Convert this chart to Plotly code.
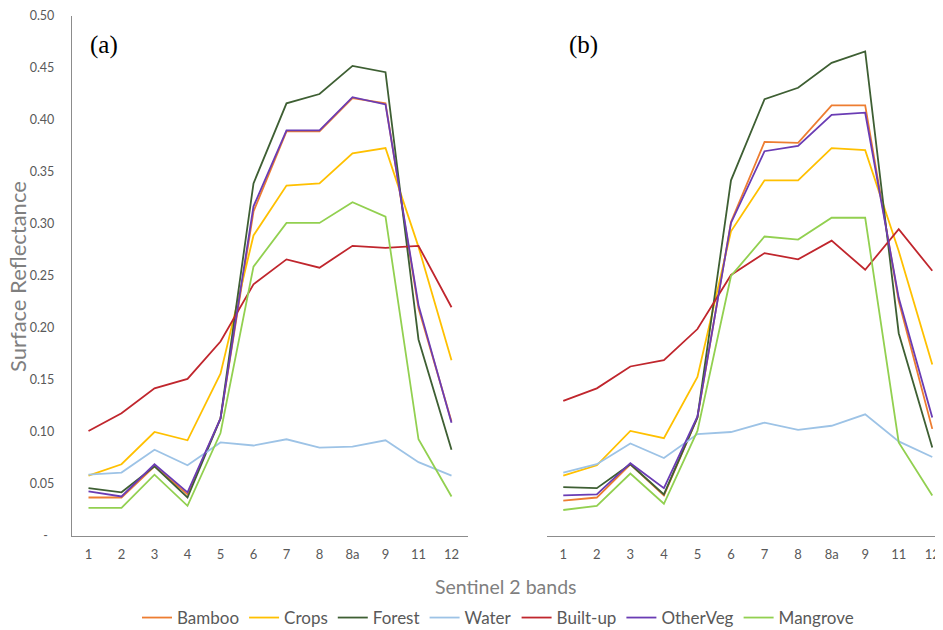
import plotly.graph_objects as go

# ---- data -------------------------------------------------------------
bands = ["1", "2", "3", "4", "5", "6", "7", "8", "8a", "9", "11", "12"]
series_names = ["Bamboo", "Crops", "Forest", "Water", "Built-up", "OtherVeg", "Mangrove"]

# panel (a)
bamboo_a   = [0.037, 0.037, 0.067, 0.040, 0.113, 0.312, 0.389, 0.389, 0.421, 0.416, 0.219, 0.110]
crops_a    = [0.058, 0.069, 0.100, 0.092, 0.156, 0.289, 0.337, 0.339, 0.368, 0.373, 0.278, 0.169]
forest_a   = [0.046, 0.042, 0.067, 0.037, 0.113, 0.339, 0.416, 0.425, 0.452, 0.446, 0.189, 0.083]
water_a    = [0.059, 0.061, 0.083, 0.068, 0.090, 0.087, 0.093, 0.085, 0.086, 0.092, 0.071, 0.058]
builtup_a  = [0.101, 0.118, 0.142, 0.151, 0.187, 0.242, 0.266, 0.258, 0.279, 0.277, 0.279, 0.220]
otherveg_a = [0.043, 0.038, 0.069, 0.042, 0.113, 0.317, 0.390, 0.390, 0.422, 0.415, 0.222, 0.109]
mangrove_a = [0.027, 0.027, 0.059, 0.029, 0.099, 0.259, 0.301, 0.301, 0.321, 0.307, 0.093, 0.038]

# panel (b)
bamboo_b   = [0.034, 0.037, 0.069, 0.039, 0.114, 0.302, 0.379, 0.378, 0.414, 0.414, 0.226, 0.103]
crops_b    = [0.058, 0.068, 0.101, 0.094, 0.153, 0.293, 0.342, 0.342, 0.373, 0.371, 0.274, 0.165]
forest_b   = [0.047, 0.046, 0.069, 0.040, 0.114, 0.342, 0.420, 0.431, 0.455, 0.466, 0.195, 0.085]
water_b    = [0.061, 0.069, 0.089, 0.075, 0.098, 0.100, 0.109, 0.102, 0.106, 0.117, 0.091, 0.076]
builtup_b  = [0.130, 0.142, 0.163, 0.169, 0.199, 0.251, 0.272, 0.266, 0.284, 0.256, 0.295, 0.255]
otherveg_b = [0.039, 0.040, 0.070, 0.046, 0.115, 0.301, 0.370, 0.375, 0.405, 0.407, 0.229, 0.114]
mangrove_b = [0.025, 0.029, 0.060, 0.031, 0.101, 0.250, 0.288, 0.285, 0.306, 0.306, 0.090, 0.039]

y_tickvals = [0.0, 0.05, 0.10, 0.15, 0.20, 0.25, 0.30, 0.35, 0.40, 0.45, 0.50]
y_ticktext = ["-\u00a0\u00a0", "0.05", "0.10", "0.15", "0.20", "0.25", "0.30",
              "0.35", "0.40", "0.45", "0.50"]

colors = ["#ED7D31", "#FFC000", "#3E5F33", "#9DC3E6", "#C0262D", "#6A3CB4", "#92D050"]

panel_a = [bamboo_a, crops_a, forest_a, water_a, builtup_a, otherveg_a, mangrove_a]
panel_b = [bamboo_b, crops_b, forest_b, water_b, builtup_b, otherveg_b, mangrove_b]

# ---- figure -----------------------------------------------------------
OFF = 8                      # page offset of the plot div
W, H = 943 - OFF, 630 - OFF
FONT = "Lato"
TXT = "#595959"
AXC = "#8C8C8C"


def px(x):
    return (x - OFF) / W


def py(y):
    return (H - (y - OFF)) / H


fig = go.Figure()
for name, col, ya in zip(series_names, colors, panel_a):
    fig.add_trace(go.Scatter(x=bands, y=ya, name=name, mode="lines",
                             line=dict(color=col, width=1.8),
                             legendgroup=name, showlegend=True,
                             xaxis="x", yaxis="y"))
for name, col, yb in zip(series_names, colors, panel_b):
    fig.add_trace(go.Scatter(x=bands, y=yb, name=name, mode="lines",
                             line=dict(color=col, width=1.8),
                             legendgroup=name, showlegend=False,
                             xaxis="x2", yaxis="y2"))

y_dom = [py(536), py(16)]

common_x = dict(type="category", categoryorder="array", categoryarray=bands,
                showline=True, linecolor=AXC, linewidth=1.3, showgrid=False,
                zeroline=False, ticks="", tickfont=dict(size=13, color=TXT),
                ticklabelstandoff=6, automargin=False)

fig.update_layout(
    width=W, height=H,
    margin=dict(l=0, r=0, t=0, b=0, pad=0, autoexpand=False),
    paper_bgcolor="white", plot_bgcolor="white",
    font=dict(family=FONT, color=TXT),
    xaxis=dict(domain=[px(72), px(468)], range=[-0.5, 11.5], anchor="y", **common_x),
    yaxis=dict(domain=y_dom, range=[0, 0.5], tickvals=y_tickvals, ticktext=y_ticktext,
               showline=True, linecolor=AXC, linewidth=1.3, showgrid=False,
               zeroline=False, ticks="", tickfont=dict(size=12.5, color=TXT),
               ticklabelstandoff=14, anchor="x", automargin=False),
    xaxis2=dict(domain=[px(546.5), 1.0], range=[-0.5, 11.32], anchor="y2", **common_x),
    yaxis2=dict(domain=y_dom, range=[0, 0.5], showline=False, showgrid=False,
                zeroline=False, showticklabels=False, ticks="", anchor="x2",
                automargin=False),
    legend=dict(orientation="h", x=px(498), xanchor="center",
                y=py(618), yanchor="middle",
                font=dict(size=17, color=TXT, family=FONT),
                bgcolor="rgba(0,0,0,0)"),
    showlegend=True,
)

annotations = [
    dict(text="Surface Reflectance", x=px(17), y=py(277), xref="paper", yref="paper",
         textangle=-90, showarrow=False, font=dict(size=22, color="#7F7F7F", family=FONT),
         xanchor="center", yanchor="middle"),
    dict(text="Sentinel 2 bands", x=px(506), y=py(586), xref="paper", yref="paper",
         showarrow=False, font=dict(size=19.5, color="#7F7F7F", family=FONT),
         xanchor="center", yanchor="middle"),
    dict(text="(a)", x=px(104), y=py(45), xref="paper", yref="paper",
         showarrow=False, font=dict(size=25, color="black", family="Liberation Serif"),
         xanchor="center", yanchor="middle"),
    dict(text="(b)", x=px(583), y=py(45), xref="paper", yref="paper",
         showarrow=False, font=dict(size=25, color="black", family="Liberation Serif"),
         xanchor="center", yanchor="middle"),
]
fig.update_layout(annotations=annotations)

fig.write_html("out.html")
